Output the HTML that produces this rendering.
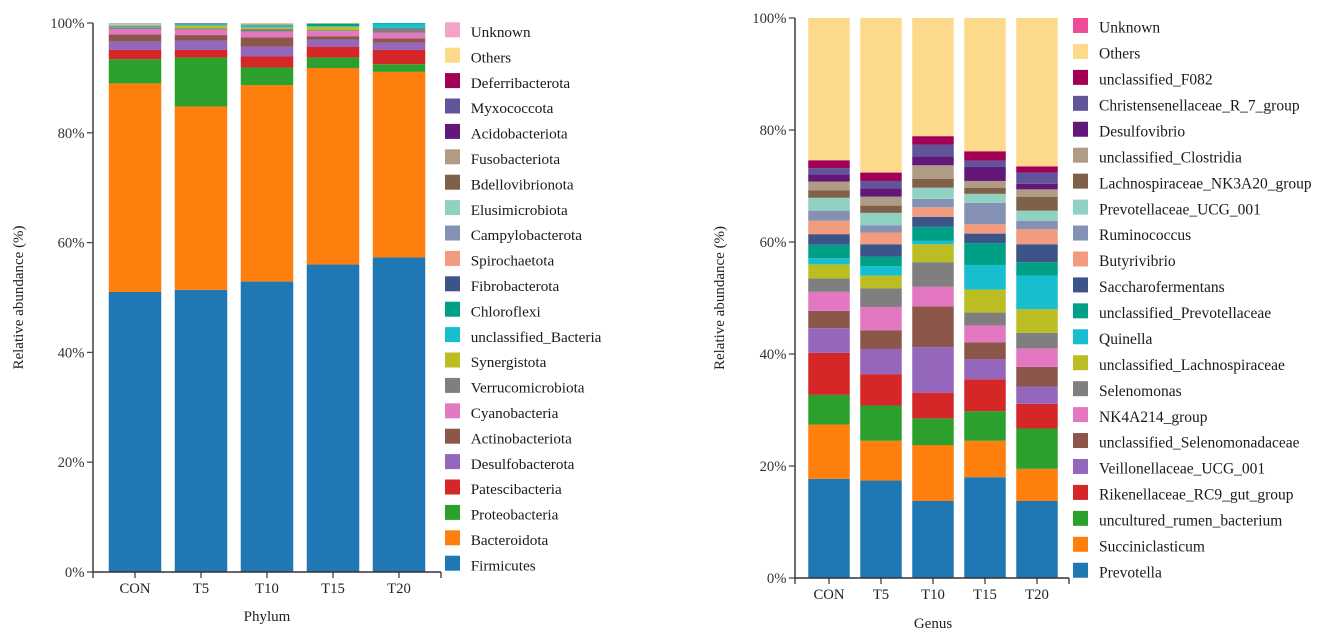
<!DOCTYPE html>
<html lang="en">
<head>
<meta charset="utf-8">
<title>Relative abundance by phylum and genus</title>
<style>
html,body{margin:0;padding:0;background:#fff;width:1325px;height:637px;overflow:hidden}
svg{display:block;font-family:"Liberation Serif","Times New Roman",serif}
</style>
</head>
<body>
<svg id="figure" width="1325" height="637" viewBox="0 0 1325 637" xmlns="http://www.w3.org/2000/svg"></svg>
<script>
const samples = ['CON', 'T5', 'T10', 'T15', 'T20'];
const percentTicks = [0, 20, 40, 60, 80, 100];

const phylumNames = ['Firmicutes','Bacteroidota','Proteobacteria','Patescibacteria','Desulfobacterota','Actinobacteriota','Cyanobacteria','Verrucomicrobiota','Synergistota','unclassified_Bacteria','Chloroflexi','Fibrobacterota','Spirochaetota','Campylobacterota','Elusimicrobiota','Bdellovibrionota','Fusobacteriota','Acidobacteriota','Myxococcota','Deferribacterota','Others','Unknown'];
const phylumCON = [51.0,38.0,4.4,1.7,1.5,1.3,1.0,0.3,0.1,0.05,0.1,0.05,0.1,0.05,0.2,0.05,0.05,0,0,0,0.05,0];
const phylumT5  = [51.4,33.4,8.9,1.4,1.7,1.0,1.0,0.2,0.5,0.2,0.1,0.15,0,0,0,0,0,0,0,0,0.05,0];
const phylumT10 = [52.9,35.8,3.2,2.0,1.8,1.7,1.0,0.5,0.3,0.4,0.05,0.05,0.2,0,0,0,0,0,0,0,0.1,0];
const phylumT15 = [56.0,35.8,1.9,2.0,1.3,0.6,0.9,0.2,0.6,0.1,0.5,0,0,0,0,0,0,0,0,0,0.1,0];
const phylumT20 = [57.3,33.8,1.4,2.6,1.3,0.8,1.0,0.9,0,0.8,0.1,0,0,0,0,0,0,0,0,0,0,0];

const genusNames = ['Prevotella','Succiniclasticum','uncultured_rumen_bacterium','Rikenellaceae_RC9_gut_group','Veillonellaceae_UCG_001','unclassified_Selenomonadaceae','NK4A214_group','Selenomonas','unclassified_Lachnospiraceae','Quinella','unclassified_Prevotellaceae','Saccharofermentans','Butyrivibrio','Ruminococcus','Prevotellaceae_UCG_001','Lachnospiraceae_NK3A20_group','unclassified_Clostridia','Desulfovibrio','Christensenellaceae_R_7_group','unclassified_F082','Others','Unknown'];
const genusCON = [17.7,9.7,5.3,7.5,4.4,3.1,3.4,2.4,2.5,1.1,2.4,1.9,2.4,1.8,2.3,1.3,1.6,1.3,1.1,1.4,25.4,0];
const genusT5  = [17.4,7.1,6.3,5.6,4.5,3.3,4.2,3.3,2.3,1.7,1.7,2.2,2.1,1.3,2.2,1.3,1.6,1.5,1.3,1.5,27.6,0];
const genusT10 = [13.75,10,4.75,4.6,8.1,7.3,3.5,4.4,3.2,0.6,2.5,1.8,1.7,1.5,2.0,1.6,2.4,1.6,2.1,1.5,21.1,0];
const genusT15 = [18.0,6.5,5.3,5.7,3.6,3.0,3.0,2.3,4.1,4.4,3.9,1.7,1.7,3.8,1.6,1.1,1.2,2.5,1.1,1.7,23.8,0];
const genusT20 = [13.75,5.75,7.2,4.4,3.1,3.5,3.3,2.8,4.2,6.0,2.4,3.2,2.7,1.5,1.8,2.5,1.3,1.0,2.0,1.1,26.5,0];

const phylumColors = ['#1f77b4','#ff7f0e','#2ca02c','#d62728','#9467bd','#8c564b','#e377c2','#7f7f7f','#bcbd22','#17becf','#00a087','#3c5488','#f39b7f','#8491b4','#91d1c2','#7e6148','#b09c85','#631879','#5f559b','#a20056','#fdd98c','#f4a3c8'];
const genusColors = phylumColors.slice(0, 21).concat(['#ee4c97']);

const svg = document.getElementById('figure');
const NS = 'http://www.w3.org/2000/svg';

function make(parent, tag, attrs, text) {
  const el = document.createElementNS(NS, tag);
  for (const k in attrs) el.setAttribute(k, attrs[k]);
  if (text !== undefined) el.textContent = text;
  parent.appendChild(el);
  return el;
}

function drawChart(cfg) {
  const chart = make(svg, 'g', {});
  
  

  const yPos = v => cfg.y0 + (cfg.y100 - cfg.y0) * v / 100;
  const xCenter = i => cfg.firstCenter + cfg.step * i;

  // stacked bars
  cfg.rows.forEach((row, s) => {
    const barGroup = make(chart, 'g', {});
    
    
    let cum = 0;
    row.forEach((v, t) => {
      if (v <= 0) return;
      const top = yPos(cum + v), bottom = yPos(cum);
      const r = make(barGroup, 'rect', {
        x: xCenter(s) - cfg.barWidth / 2,
        y: top,
        width: cfg.barWidth,
        height: bottom - top,
        fill: cfg.colors[t]
      });
      
      
      cum += v;
    });
  });

  // y axis
  const yAxis = make(chart, 'g', {stroke: 'none'});
  
  
  make(yAxis, 'line', {x1: cfg.axisX, x2: cfg.axisX, y1: yPos(100), y2: yPos(0), stroke: '#4a4a4a', 'stroke-width': 1.6});
  percentTicks.forEach(v => {
    make(yAxis, 'line', {x1: cfg.axisX - 6, x2: cfg.axisX, y1: yPos(v), y2: yPos(v), stroke: '#4a4a4a', 'stroke-width': 1.3});
    const lab = make(yAxis, 'text', {x: cfg.axisX - 8.5, y: yPos(v) + 5, 'text-anchor': 'end', 'font-size': 14.7, fill: '#333'}, v + '%');
    
    
  });

  // x axis
  const xAxis = make(chart, 'g', {});
  
  
  make(xAxis, 'line', {x1: cfg.axisX, x2: cfg.axisEnd, y1: yPos(0), y2: yPos(0), stroke: '#333', 'stroke-width': 1.4});
  make(xAxis, 'line', {x1: cfg.axisX, x2: cfg.axisX, y1: yPos(0), y2: yPos(0) + 6, stroke: '#333', 'stroke-width': 1.3});
  make(xAxis, 'line', {x1: cfg.axisEnd, x2: cfg.axisEnd, y1: yPos(0), y2: yPos(0) + 6, stroke: '#333', 'stroke-width': 1.3});
  samples.forEach((name, i) => {
    make(xAxis, 'line', {x1: xCenter(i), x2: xCenter(i), y1: yPos(0), y2: yPos(0) + 6, stroke: '#333', 'stroke-width': 1.2});
    const lab = make(xAxis, 'text', {x: xCenter(i), y: yPos(0) + 21, 'text-anchor': 'middle', 'font-size': 14.7, fill: '#222'}, name);
    
    
  });

  // axis titles
  const yTitle = make(chart, 'text', {
    transform: 'translate(' + cfg.yTitleX + ',' + ((yPos(0) + yPos(100)) / 2) + ') rotate(-90)',
    'text-anchor': 'middle', 'font-size': 15, fill: '#222'
  }, 'Relative abundance (%)');
  
  

  const xTitle = make(chart, 'text', {x: xCenter(2), y: cfg.xTitleY, 'text-anchor': 'middle', 'font-size': 15, fill: '#222'}, cfg.xTitle);
  
  

  // legend: top entry is the last series
  const legend = make(chart, 'g', {});
  
  
  const count = cfg.names.length;
  cfg.names.forEach((name, t) => {
    const top = cfg.legendTop + cfg.legendStep * (count - 1 - t);
    const entry = make(legend, 'g', {});
    
    
    make(entry, 'rect', {x: cfg.legendX, y: top, width: 15, height: 15, fill: cfg.colors[t]});
    make(entry, 'text', {x: cfg.legendTextX, y: top + 14.7, 'font-size': cfg.legendFont, fill: '#1a1a1a'}, name);
  });
}

drawChart({
  id: 'phylum', names: phylumNames, colors: phylumColors,
  rows: [phylumCON, phylumT5, phylumT10, phylumT15, phylumT20],
  y0: 572, y100: 23, axisX: 93, axisEnd: 441, firstCenter: 135, step: 66, barWidth: 52.5,
  yTitleX: 23, xTitle: 'Phylum', xTitleY: 621,
  legendX: 445, legendTextX: 470.7, legendTop: 22.3, legendStep: 25.4, legendFont: 15.2
});

drawChart({
  id: 'genus', names: genusNames, colors: genusColors,
  rows: [genusCON, genusT5, genusT10, genusT15, genusT20],
  y0: 578, y100: 18, axisX: 795, axisEnd: 1069, firstCenter: 829, step: 52, barWidth: 41.5,
  yTitleX: 724, xTitle: 'Genus', xTitleY: 628,
  legendX: 1073, legendTextX: 1099, legendTop: 18, legendStep: 25.94, legendFont: 15.5
});
</script>
</body>
</html>
